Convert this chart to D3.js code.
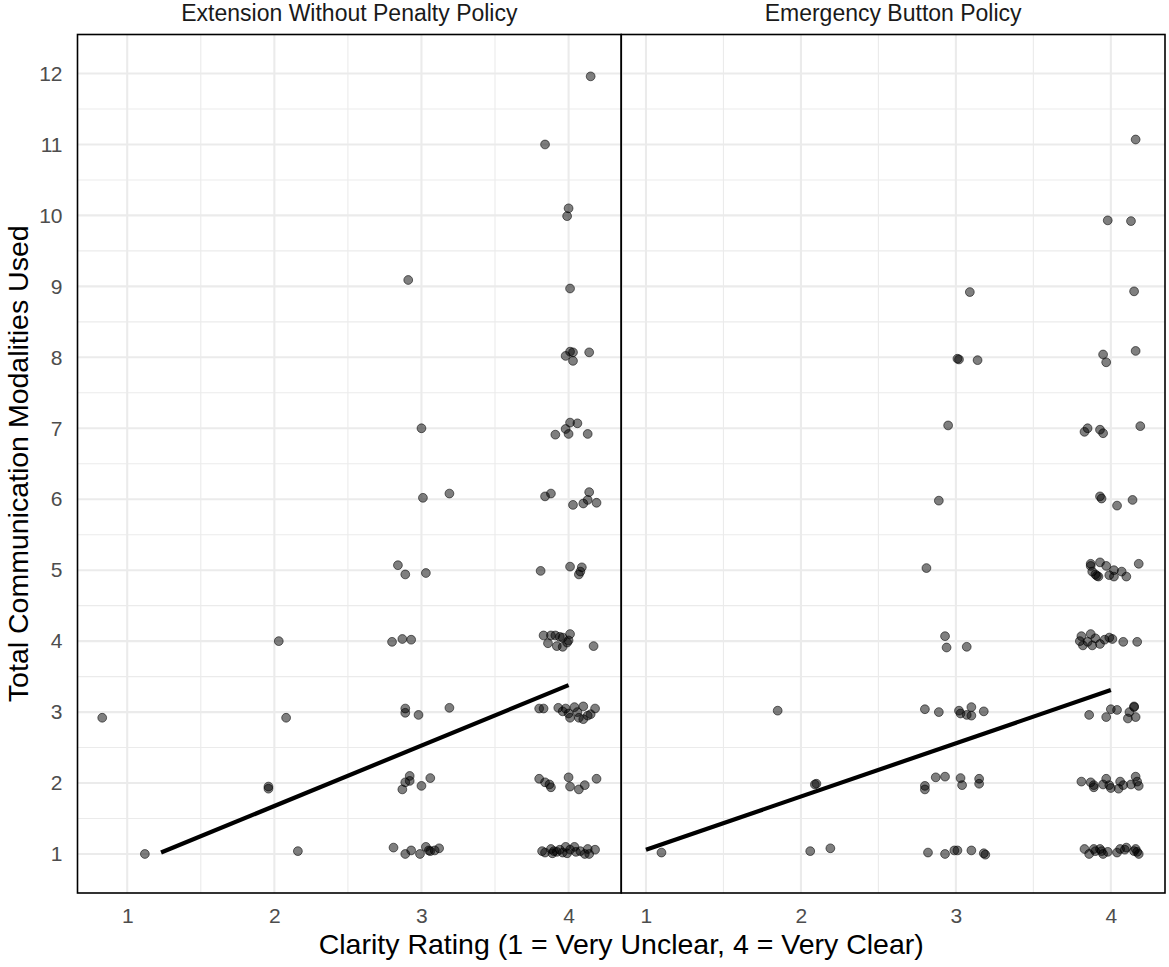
<!DOCTYPE html>
<html>
<head>
<meta charset="utf-8">
<script src="https://cdn.jsdelivr.net/npm/d3@7"></script>
<style>
  body { margin: 0; background: #fff; }
  text { font-family: "Liberation Sans", Arial, sans-serif; }
</style>
</head>
<body>
<div id="chart"></div>
<script>

var panelTitles = ['Extension Without Penalty Policy', 'Emergency Button Policy'];
var xTicks = [1, 2, 3, 4];
var yTicks = [1, 2, 3, 4, 5, 6, 7, 8, 9, 10, 11, 12];

// jittered points [clarity, modalities]
var extensionPoints = [
  [4.15, 11.96], [3.84, 11.0], [4.0, 10.1], [3.99, 9.99], [2.91, 9.09], [4.01, 8.97],
  [4.01, 8.08], [4.03, 8.07], [3.98, 8.02], [4.03, 7.95], [4.14, 8.07],
  [3.0, 7.0], [4.01, 7.08], [4.06, 7.07], [3.98, 6.99], [3.91, 6.91], [4.0, 6.92], [4.13, 6.92],
  [3.01, 6.02], [3.19, 6.08], [3.84, 6.04], [3.88, 6.08], [4.03, 5.92], [4.10, 5.94], [4.13, 5.99], [4.14, 6.10], [4.19, 5.95],
  [2.84, 5.07], [2.89, 4.94], [3.03, 4.96], [3.81, 4.99], [4.01, 5.05], [4.09, 5.04], [4.08, 4.98], [4.07, 4.94],
  [2.03, 4.0], [2.80, 3.99], [2.87, 4.03], [2.93, 4.02], [3.83, 4.08], [3.86, 3.97], [3.88, 4.08], [3.91, 4.08],
  [3.92, 3.93], [3.94, 4.06], [3.96, 4.05], [3.96, 3.92], [3.99, 3.98], [4.0, 4.01], [4.01, 4.10], [4.17, 3.93],
  [0.83, 2.92], [2.08, 2.92], [2.89, 3.05], [2.89, 2.99], [2.98, 2.96], [3.19, 3.06], [3.80, 3.05], [3.83, 3.05],
  [3.93, 3.06], [3.96, 3.01], [3.98, 3.05], [4.0, 2.98], [4.01, 2.92], [4.04, 3.07], [4.06, 3.0], [4.07, 2.92],
  [4.10, 3.08], [4.10, 2.90], [4.13, 2.95], [4.15, 2.97], [4.18, 3.05],
  [1.96, 1.95], [1.96, 1.92], [2.92, 2.10], [2.89, 2.01], [2.92, 2.03], [2.87, 1.91], [3.0, 1.96], [3.06, 2.07],
  [3.80, 2.06], [3.84, 2.01], [3.87, 1.98], [3.88, 1.94], [4.0, 2.08], [4.01, 1.95], [4.07, 1.91], [4.11, 1.97], [4.19, 2.06],
  [1.12, 1.0], [2.16, 1.04], [2.81, 1.09], [2.89, 1.0], [2.93, 1.05], [2.99, 1.0], [3.03, 1.10], [3.05, 1.05],
  [3.06, 1.04], [3.09, 1.05], [3.12, 1.08],
  [3.82, 1.04], [3.84, 1.02], [3.88, 1.07], [3.89, 1.01], [3.90, 1.04], [3.92, 1.03], [3.94, 1.06], [3.96, 1.02],
  [3.98, 1.10], [3.99, 1.01], [4.01, 1.06], [4.04, 1.10], [4.05, 1.03], [4.08, 1.04], [4.11, 1.0], [4.13, 1.07],
  [4.14, 1.0], [4.18, 1.06]
];

var emergencyPoints = [
  [4.16, 11.07], [3.98, 9.93], [4.13, 9.92], [3.09, 8.92], [4.15, 8.93],
  [3.02, 7.97], [3.01, 7.98], [3.14, 7.96], [3.95, 8.04], [3.97, 7.93], [4.16, 8.09],
  [2.95, 7.04], [3.83, 6.95], [3.85, 7.0], [3.93, 6.98], [3.95, 6.93], [4.19, 7.03],
  [2.89, 5.98], [3.93, 6.04], [3.94, 6.01], [4.04, 5.91], [4.14, 5.99],
  [2.81, 5.03], [3.87, 5.09], [3.93, 5.11], [3.97, 5.06], [3.88, 4.98], [3.90, 4.94], [3.92, 4.91], [3.99, 4.93],
  [4.02, 5.0], [4.02, 4.91], [4.07, 4.98], [4.10, 4.91], [4.18, 5.09], [3.87, 5.06], [3.91, 4.92],
  [2.93, 4.07], [2.94, 3.91], [3.07, 3.92], [3.81, 4.07], [3.80, 4.0], [3.82, 3.94], [3.87, 4.10], [3.85, 3.99],
  [3.88, 3.94], [3.90, 4.04], [3.93, 3.96], [3.96, 4.02], [3.99, 4.05], [4.01, 4.03], [4.08, 3.99], [4.17, 3.99],
  [1.85, 3.02], [2.80, 3.04], [2.89, 3.0], [3.02, 3.02], [3.03, 2.98], [3.07, 2.96], [3.10, 3.07], [3.10, 2.95],
  [3.18, 3.01], [3.86, 2.96], [3.97, 2.93], [4.0, 3.04], [4.04, 3.03], [4.12, 3.0], [4.15, 3.08], [4.15, 3.07],
  [4.11, 2.91], [4.16, 2.93],
  [2.09, 1.98], [2.10, 1.99], [2.80, 1.96], [2.80, 1.91], [2.87, 2.08], [2.93, 2.09], [3.03, 2.07], [3.04, 1.97],
  [3.15, 2.06], [3.15, 1.99], [3.81, 2.02], [3.87, 2.01], [3.89, 1.94], [3.89, 1.97], [3.95, 1.98], [3.97, 2.06],
  [3.99, 1.97], [4.0, 1.93], [4.05, 1.92], [4.06, 2.02], [4.08, 1.97], [4.13, 1.98], [4.16, 2.09], [4.17, 2.02], [4.18, 1.96],
  [1.10, 1.02], [2.06, 1.04], [2.19, 1.08], [2.82, 1.02], [2.93, 1.0], [2.99, 1.05], [3.01, 1.05], [3.10, 1.05],
  [3.18, 1.01], [3.19, 0.99], [3.83, 1.07], [3.86, 1.0], [3.89, 1.07], [3.90, 1.04], [3.93, 1.07], [3.94, 1.04],
  [3.95, 1.0], [3.98, 1.03], [4.04, 1.02], [4.06, 1.07], [4.10, 1.09], [4.09, 1.06], [4.16, 1.07], [4.17, 1.03],
  [4.18, 1.0], [4.15, 1.04]
];

// fitted line ends [clarity, modalities]
var extensionFit = [[1.23, 1.02], [4.0, 3.38]];
var emergencyFit = [[1.0, 1.06], [4.0, 3.31]];

var panels = [
  { title: panelTitles[0], points: extensionPoints, fit: extensionFit, xMin: 0.83, xMax: 4.19 },
  { title: panelTitles[1], points: emergencyPoints, fit: emergencyFit, xMin: 1.0, xMax: 4.19 }
];

function expand(lo, hi) {
  var pad = (hi - lo) * 0.05;
  return [lo - pad, hi + pad];
}

var width = 1169, height = 967;
var margin = { top: 34.5, right: 4, bottom: 74, left: 77.5 };
var panelW = (width - margin.left - margin.right) / 2;
var panelH = height - margin.top - margin.bottom;

var svg = d3.select('#chart').append('svg')
  .attr('width', width)
  .attr('height', height);

var y = d3.scaleLinear()
  .domain(expand(1.0, 12.0))
  .range([margin.top + panelH, margin.top]);

var yMinor = d3.range(1.5, 12.5, 1);

panels.forEach(function (p, i) {

  var x0 = margin.left + i * panelW;

  var x = d3.scaleLinear()
    .domain(expand(p.xMin, p.xMax))
    .range([x0, x0 + panelW]);

  var xMinor = d3.range(0.5, 4.6, 1).filter(function (v) {
    return v > x.domain()[0] && v < x.domain()[1];
  });

  var g = svg.append('g');

  // minor grid
  g.selectAll('.vminor').data(xMinor).enter().append('line')
    .attr('x1', function (d) { return x(d); })
    .attr('x2', function (d) { return x(d); })
    .attr('y1', margin.top).attr('y2', margin.top + panelH)
    .attr('stroke', '#ebebeb').attr('stroke-width', 1.1);

  g.selectAll('.hminor').data(yMinor).enter().append('line')
    .attr('x1', x0).attr('x2', x0 + panelW)
    .attr('y1', function (d) { return y(d); })
    .attr('y2', function (d) { return y(d); })
    .attr('stroke', '#ebebeb').attr('stroke-width', 1.1);

  // major grid
  g.selectAll('.vmajor').data(xTicks).enter().append('line')
    .attr('x1', function (d) { return x(d); })
    .attr('x2', function (d) { return x(d); })
    .attr('y1', margin.top).attr('y2', margin.top + panelH)
    .attr('stroke', '#ebebeb').attr('stroke-width', 2.1);

  g.selectAll('.hmajor').data(yTicks).enter().append('line')
    .attr('x1', x0).attr('x2', x0 + panelW)
    .attr('y1', function (d) { return y(d); })
    .attr('y2', function (d) { return y(d); })
    .attr('stroke', '#ebebeb').attr('stroke-width', 2.1);

  // points
  g.selectAll('circle').data(p.points).enter().append('circle')
    .attr('cx', function (d) { return x(d[0]); })
    .attr('cy', function (d) { return y(d[1]); })
    .attr('r', 4.4)
    .attr('fill', '#000')
    .attr('fill-opacity', 0.5)
    .attr('stroke', '#000')
    .attr('stroke-opacity', 0.55)
    .attr('stroke-width', 1);

  // fitted line
  g.append('path')
    .datum(p.fit)
    .attr('d', d3.line()
      .x(function (d) { return x(d[0]); })
      .y(function (d) { return y(d[1]); }))
    .attr('fill', 'none')
    .attr('stroke', '#000')
    .attr('stroke-width', 4.2);

  // panel border
  g.append('rect')
    .attr('x', x0).attr('y', margin.top)
    .attr('width', panelW).attr('height', panelH)
    .attr('fill', 'none')
    .attr('stroke', '#000')
    .attr('stroke-width', 1.6);

  // x axis
  var xAxis = g.append('g')
    .attr('transform', 'translate(0,' + (margin.top + panelH) + ')')
    .call(d3.axisBottom(x).tickValues(xTicks).tickSize(0).tickPadding(15).tickFormat(d3.format('d')));
  xAxis.select('.domain').remove();
  xAxis.selectAll('text')
    .attr('fill', '#4d4d4d')
    .style('font-size', '21px');

  // strip title
  g.append('text')
    .attr('x', x0 + panelW / 2)
    .attr('y', 21)
    .attr('text-anchor', 'middle')
    .attr('fill', '#1a1a1a')
    .style('font-size', '23px')
    .text(p.title);
});

// y axis
var yAxis = svg.append('g')
  .attr('transform', 'translate(' + margin.left + ',0)')
  .call(d3.axisLeft(y).tickValues(yTicks).tickSize(0).tickPadding(15).tickFormat(d3.format('d')));
yAxis.select('.domain').remove();
yAxis.selectAll('text')
  .attr('fill', '#4d4d4d')
  .style('font-size', '21px');

// axis titles
svg.append('text')
  .attr('x', margin.left + panelW)
  .attr('y', 954)
  .attr('text-anchor', 'middle')
  .attr('fill', '#000')
  .style('font-size', '28.5px')
  .text('Clarity Rating (1 = Very Unclear, 4 = Very Clear)');

svg.append('text')
  .attr('transform', 'translate(28,' + (margin.top + panelH / 2) + ') rotate(-90)')
  .attr('text-anchor', 'middle')
  .attr('fill', '#000')
  .style('font-size', '28.5px')
  .text('Total Communication Modalities Used');

</script>
</body>
</html>
